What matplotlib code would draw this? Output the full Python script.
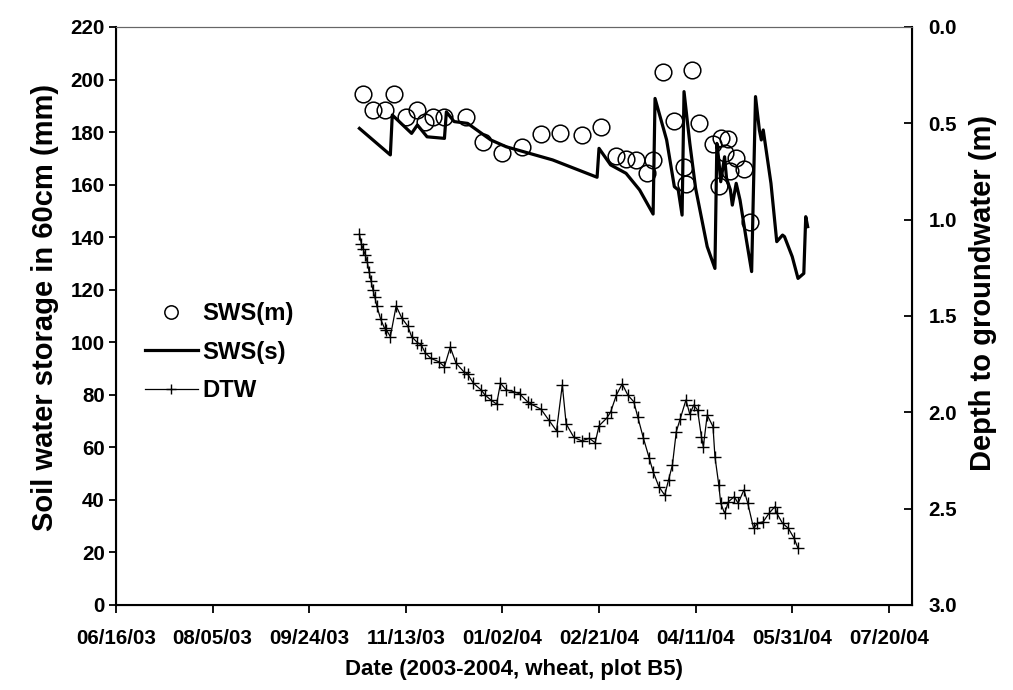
import matplotlib
matplotlib.use("Agg")
import matplotlib.pyplot as plt
import matplotlib.dates as mdates
from matplotlib import font_manager
import pandas as pd

# narrow bold face looks closest to the squeezed text of the original
installed = {f.name for f in font_manager.fontManager.ttflist}
if "Liberation Sans Narrow" in installed:
    narrow = ["Liberation Sans Narrow", "DejaVu Sans"]
    k = 1.0
else:
    narrow = ["Liberation Sans", "DejaVu Sans"]
    k = 0.82
plt.rcParams['font.family'] = ['Liberation Sans', 'DejaVu Sans']
plt.rcParams['font.weight'] = 'bold'

# ---------------------------
# DATA
# ---------------------------
# measured soil water storage (mm)
sws_m_dates = [
    "2003-10-22", "2003-10-27", "2003-11-02", "2003-11-07", "2003-11-13",
    "2003-11-19", "2003-11-23", "2003-11-27", "2003-12-03", "2003-12-14",
    "2003-12-23", "2004-01-02", "2004-01-12", "2004-01-22", "2004-02-01",
    "2004-02-12", "2004-02-22", "2004-03-01", "2004-03-06", "2004-03-11",
    "2004-03-17", "2004-03-20", "2004-03-25", "2004-03-31", "2004-04-05",
    "2004-04-06", "2004-04-09", "2004-04-13", "2004-04-20", "2004-04-23",
    "2004-04-24", "2004-04-26", "2004-04-28", "2004-04-29", "2004-05-02",
    "2004-05-06", "2004-05-09",
]
sws_m = [
    194.5, 188.4, 188.4, 194.5, 185.6,
    188.4, 184.0, 185.6, 185.6, 185.6,
    176.3, 171.9, 174.4, 179.3, 179.8,
    178.9, 182.0, 170.8, 169.6, 169.4,
    164.3, 169.4, 203.0, 184.2, 166.8,
    160.2, 203.6, 183.3, 175.5, 159.5,
    177.6, 172.0, 177.2, 165.0, 170.0,
    166.0, 145.6,
]

# simulated soil water storage (mm)
sws_s_dates = [
    "2003-10-20", "2003-11-05", "2003-11-06", "2003-11-16", "2003-11-19",
    "2003-11-24", "2003-12-03", "2003-12-04", "2003-12-08", "2003-12-15",
    "2003-12-27", "2004-01-04", "2004-01-16", "2004-01-28", "2004-02-20",
    "2004-02-21", "2004-02-27", "2004-03-06", "2004-03-13", "2004-03-20",
    "2004-03-21", "2004-03-27", "2004-03-31", "2004-04-02", "2004-04-04",
    "2004-04-05", "2004-04-08", "2004-04-11", "2004-04-17", "2004-04-21",
    "2004-04-22", "2004-04-23", "2004-04-24", "2004-04-26", "2004-04-27",
    "2004-04-29", "2004-04-30", "2004-05-02", "2004-05-04", "2004-05-07",
    "2004-05-10", "2004-05-12", "2004-05-14", "2004-05-15", "2004-05-16",
    "2004-05-20", "2004-05-23", "2004-05-26", "2004-05-27", "2004-05-31",
    "2004-06-03", "2004-06-06", "2004-06-07", "2004-06-08",
]
sws_s = [
    181.4, 171.3, 186.5, 179.5, 182.7,
    178.2, 177.6, 187.7, 184.0, 183.3,
    177.0, 174.4, 171.9, 169.4, 162.8,
    173.8, 167.5, 164.3, 158.0, 148.8,
    192.8, 177.0, 159.2, 158.0, 148.4,
    195.4, 175.7, 158.6, 136.4, 128.1,
    175.7, 169.4, 161.1, 170.6, 162.4,
    158.0, 152.2, 160.5, 154.1, 140.2,
    126.9, 193.5, 180.8, 177.0, 180.8,
    160.5, 138.3, 140.8, 140.2, 132.6,
    124.3, 126.2, 147.8, 144.0,
]

# depth to groundwater (m)
dtw_dates = [
    "2003-10-20", "2003-10-21", "2003-10-22", "2003-10-23", "2003-10-24",
    "2003-10-25", "2003-10-26", "2003-10-27", "2003-10-28", "2003-10-29",
    "2003-10-31", "2003-11-02", "2003-11-03", "2003-11-05", "2003-11-08",
    "2003-11-11", "2003-11-14", "2003-11-16", "2003-11-19", "2003-11-21",
    "2003-11-23", "2003-11-26", "2003-11-30", "2003-12-03", "2003-12-06",
    "2003-12-09", "2003-12-13", "2003-12-15", "2003-12-18", "2003-12-22",
    "2003-12-24", "2003-12-27", "2003-12-30", "2004-01-01", "2004-01-04",
    "2004-01-08", "2004-01-11", "2004-01-15", "2004-01-17", "2004-01-22",
    "2004-01-26", "2004-01-30", "2004-02-02", "2004-02-04", "2004-02-08",
    "2004-02-12", "2004-02-16", "2004-02-19", "2004-02-21", "2004-02-25",
    "2004-02-27", "2004-03-01", "2004-03-04", "2004-03-07", "2004-03-10",
    "2004-03-12", "2004-03-15", "2004-03-18", "2004-03-20", "2004-03-23",
    "2004-03-26", "2004-03-28", "2004-03-30", "2004-04-01", "2004-04-03",
    "2004-04-06", "2004-04-08", "2004-04-10", "2004-04-12", "2004-04-14",
    "2004-04-15", "2004-04-17", "2004-04-20", "2004-04-21", "2004-04-23",
    "2004-04-24", "2004-04-26", "2004-04-28", "2004-05-01", "2004-05-03",
    "2004-05-06", "2004-05-08", "2004-05-11", "2004-05-13", "2004-05-16",
    "2004-05-19", "2004-05-22", "2004-05-23", "2004-05-26", "2004-05-29",
    "2004-06-01", "2004-06-03",
]
dtw = [
    1.074, 1.126, 1.154, 1.183, 1.218,
    1.270, 1.317, 1.365, 1.403, 1.448,
    1.517, 1.564, 1.573, 1.607, 1.448,
    1.512, 1.552, 1.607, 1.638, 1.650,
    1.690, 1.720, 1.737, 1.763, 1.662,
    1.745, 1.789, 1.801, 1.849, 1.884,
    1.910, 1.936, 1.957, 1.849, 1.884,
    1.893, 1.905, 1.945, 1.958, 1.984,
    2.040, 2.096, 1.858, 2.060, 2.130,
    2.148, 2.135, 2.158, 2.070, 2.030,
    1.999, 1.910, 1.853, 1.912, 1.945,
    2.022, 2.135, 2.238, 2.308, 2.386,
    2.430, 2.351, 2.273, 2.100, 2.035,
    1.936, 2.010, 1.962, 1.988, 2.126,
    2.178, 2.014, 2.074, 2.230, 2.377,
    2.472, 2.524, 2.464, 2.438, 2.472,
    2.403, 2.472, 2.602, 2.576, 2.568,
    2.524, 2.490, 2.524, 2.576, 2.602,
    2.654, 2.706,
]

x_ticks = pd.date_range("2003-06-16", periods=9, freq="50D")
x_min = pd.Timestamp("2003-06-16")
x_max = pd.Timestamp("2004-08-01")
left_ticks = list(range(0, 221, 20))
right_ticks = [0.0, 0.5, 1.0, 1.5, 2.0, 2.5, 3.0]

# ---------------------------
# FIGURE
# ---------------------------
fig = plt.figure(figsize=(10.13, 6.9), dpi=100)
ax = fig.add_axes([0.1145, 0.1232, 0.7858, 0.8377])
ax2 = ax.twinx()

ax.plot(pd.to_datetime(sws_s_dates), sws_s, color="black", lw=2.3,
        label="SWS(s)", zorder=3)
ax.plot(pd.to_datetime(sws_m_dates), sws_m, ls="none", marker="o",
        ms=12, mfc="none", mec="black", mew=1.1, label="SWS(m)", zorder=4)
ax2.plot(pd.to_datetime(dtw_dates), dtw, color="black", lw=0.9,
         marker="+", ms=9, mew=1.0, label="DTW")

ax.set_xlim(x_min, x_max)
ax.set_ylim(0, 220)
ax2.set_ylim(3.0, 0.0)

ax.set_xticks(x_ticks)
ax.xaxis.set_major_formatter(mdates.DateFormatter("%m/%d/%y"))
ax.set_yticks(left_ticks)
ax2.set_yticks(right_ticks)
ax2.set_yticklabels([f"{v:.1f}" for v in right_ticks])

ax.tick_params(axis="x", direction="out", length=6, width=1.3, pad=11)
ax.tick_params(axis="y", direction="out", length=5, width=1.3, pad=3)
ax2.tick_params(axis="y", direction="in", length=6, width=1.3, pad=12)
for lab in ax.get_xticklabels() + ax.get_yticklabels() + ax2.get_yticklabels():
    lab.set_family(narrow)
    lab.set_fontsize(18 * k)

for sp in ["left", "bottom"]:
    ax.spines[sp].set_linewidth(1.5)
ax.spines["top"].set_color("#666666")
ax2.spines["top"].set_color("#666666")
ax2.spines["right"].set_linewidth(1.5)

ax.set_xlabel("Date (2003-2004, wheat, plot B5)", family=narrow,
              fontsize=19.5 * k, fontweight="bold", labelpad=8)
ax.set_ylabel("Soil water storage in 60cm (mm)", fontsize=21,
              fontweight="bold")
ax2.set_ylabel("Depth to groundwater (m)", fontsize=21,
               fontweight="bold")
ax.yaxis.set_label_coords(-0.0716, 0.515)
ax2.yaxis.set_label_coords(1.072, 0.54)

h1, l1 = ax.get_legend_handles_labels()
h2, l2 = ax2.get_legend_handles_labels()
handles = [h1[1], h1[0], h2[0]]
labels = [l1[1], l1[0], l2[0]]
leg = ax.legend(handles, labels, loc="upper left",
                bbox_to_anchor=(145 / 1013, 1 - 302 / 690),
                bbox_transform=fig.transFigure, frameon=False,
                prop={"family": narrow, "weight": "bold", "size": 21 * k},
                numpoints=1, handlelength=2.2, handletextpad=0.2,
                labelspacing=0.65, borderpad=0, borderaxespad=0,
                markerscale=0.8)

plt.savefig("out.png", dpi=100)
